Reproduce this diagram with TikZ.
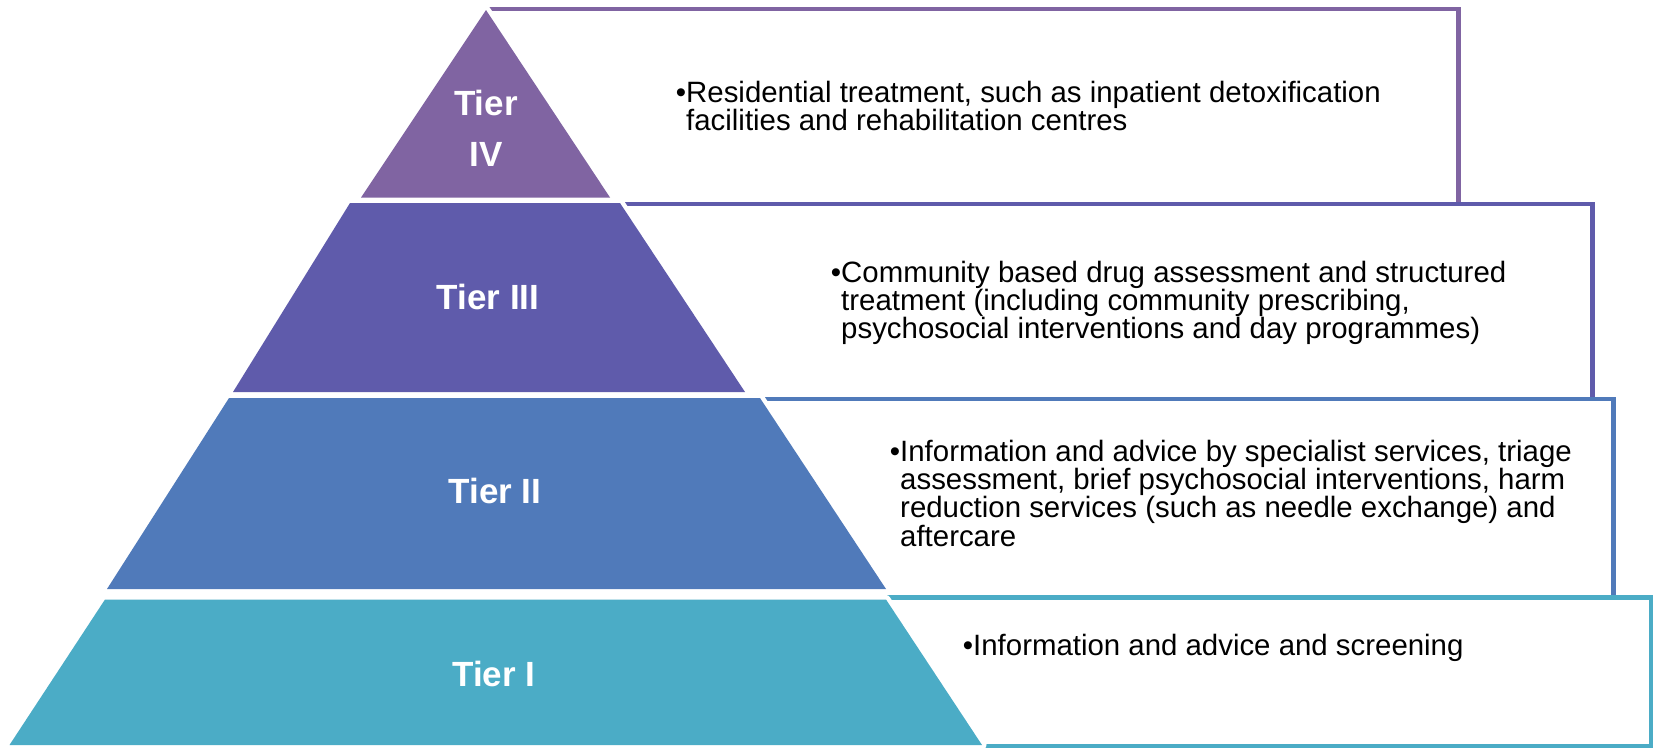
\documentclass[tikz,border=0pt]{standalone}
\usepackage{fontspec}
\setmainfont{Liberation Sans}
\definecolor{tierIV}{HTML}{8064A2}
\definecolor{tierIII}{HTML}{5F5BAB}
\definecolor{tierII}{HTML}{507ABA}
\definecolor{tierI}{HTML}{4BACC6}
\setlength{\lineskiplimit}{-50pt} % keep the tight line spacing of the boxes
\tikzstyle{tierbox}=[line width=4.5,line join=miter]
\tikzstyle{tier}=[preaction={draw=white,line width=9,line join=round}]
\tikzstyle{tierlabel}=[text=white,inner sep=0,align=center,
                       font=\bfseries\fontsize{35}{51}\selectfont]
\tikzstyle{bullets}=[inner sep=0,anchor=north west,align=left,
                     font=\fontsize{29.4}{28.4}\selectfont]

\begin{document}
\begin{tikzpicture}[x=1pt,y=-1pt]
  \useasboundingbox (0,0) rectangle (1653,747);
  \def\xl{487} % boxes start behind the pyramid axis

  % TEXT BOXES (left edge hidden by the pyramid)
  \foreach \col/\ya/\yb/\xb in {tierIV/9.2/204.2/1458.7,tierIII/204.2/399/1592.5,
                                tierII/399/597.5/1613.3,tierI/597.5/746/1651}{
    \draw[tierbox,draw=\col] (\xl,\ya) -| (\xb,\yb) -- (\xl,\yb);
  }

  % PYRAMID TIERS
  \path[tier,fill=tierIV]  (486,10) -- (610,197.5) -- (361,197.5) -- cycle;
  \path[tier,fill=tierIII] (350,203) -- (620,203) -- (745,392) -- (233,392) -- cycle;
  \path[tier,fill=tierII]  (229,398) -- (760,398) -- (886,589) -- (107,589) -- cycle;
  \path[tier,fill=tierI]   (105,599.5) -- (886,599.5) -- (982,745) -- (9.5,745) -- cycle;

  % LABELS
  \node[tierlabel,anchor=north] (l4) at (486,90) {Tier\\IV};
  \node[tierlabel,anchor=base] (l3) at (488,309) {Tier III};
  \node[tierlabel,anchor=base] (l2) at (495,503) {Tier II};
  \node[tierlabel,anchor=base] (l1) at (494,686) {Tier I};

  % DESCRIPTIONS
  \node[bullets] (d4) at (686,80.5) {\llap{•}Residential treatment, such as inpatient detoxification\\
    facilities and rehabilitation centres};
  \node[bullets] (d3) at (841,260.5) {\llap{•}Community based drug assessment and structured\\
    treatment (including community prescribing,\\
    psychosocial interventions and day programmes)};
  \node[bullets] (d2) at (900,439.5) {\llap{•}Information and advice by specialist services, triage\\
    assessment, brief psychosocial interventions, harm\\
    reduction services (such as needle exchange) and\\
    aftercare};
  \node[bullets] (d1) at (973,633.5) {\llap{•}Information and advice and screening};
\end{tikzpicture}
\end{document}
